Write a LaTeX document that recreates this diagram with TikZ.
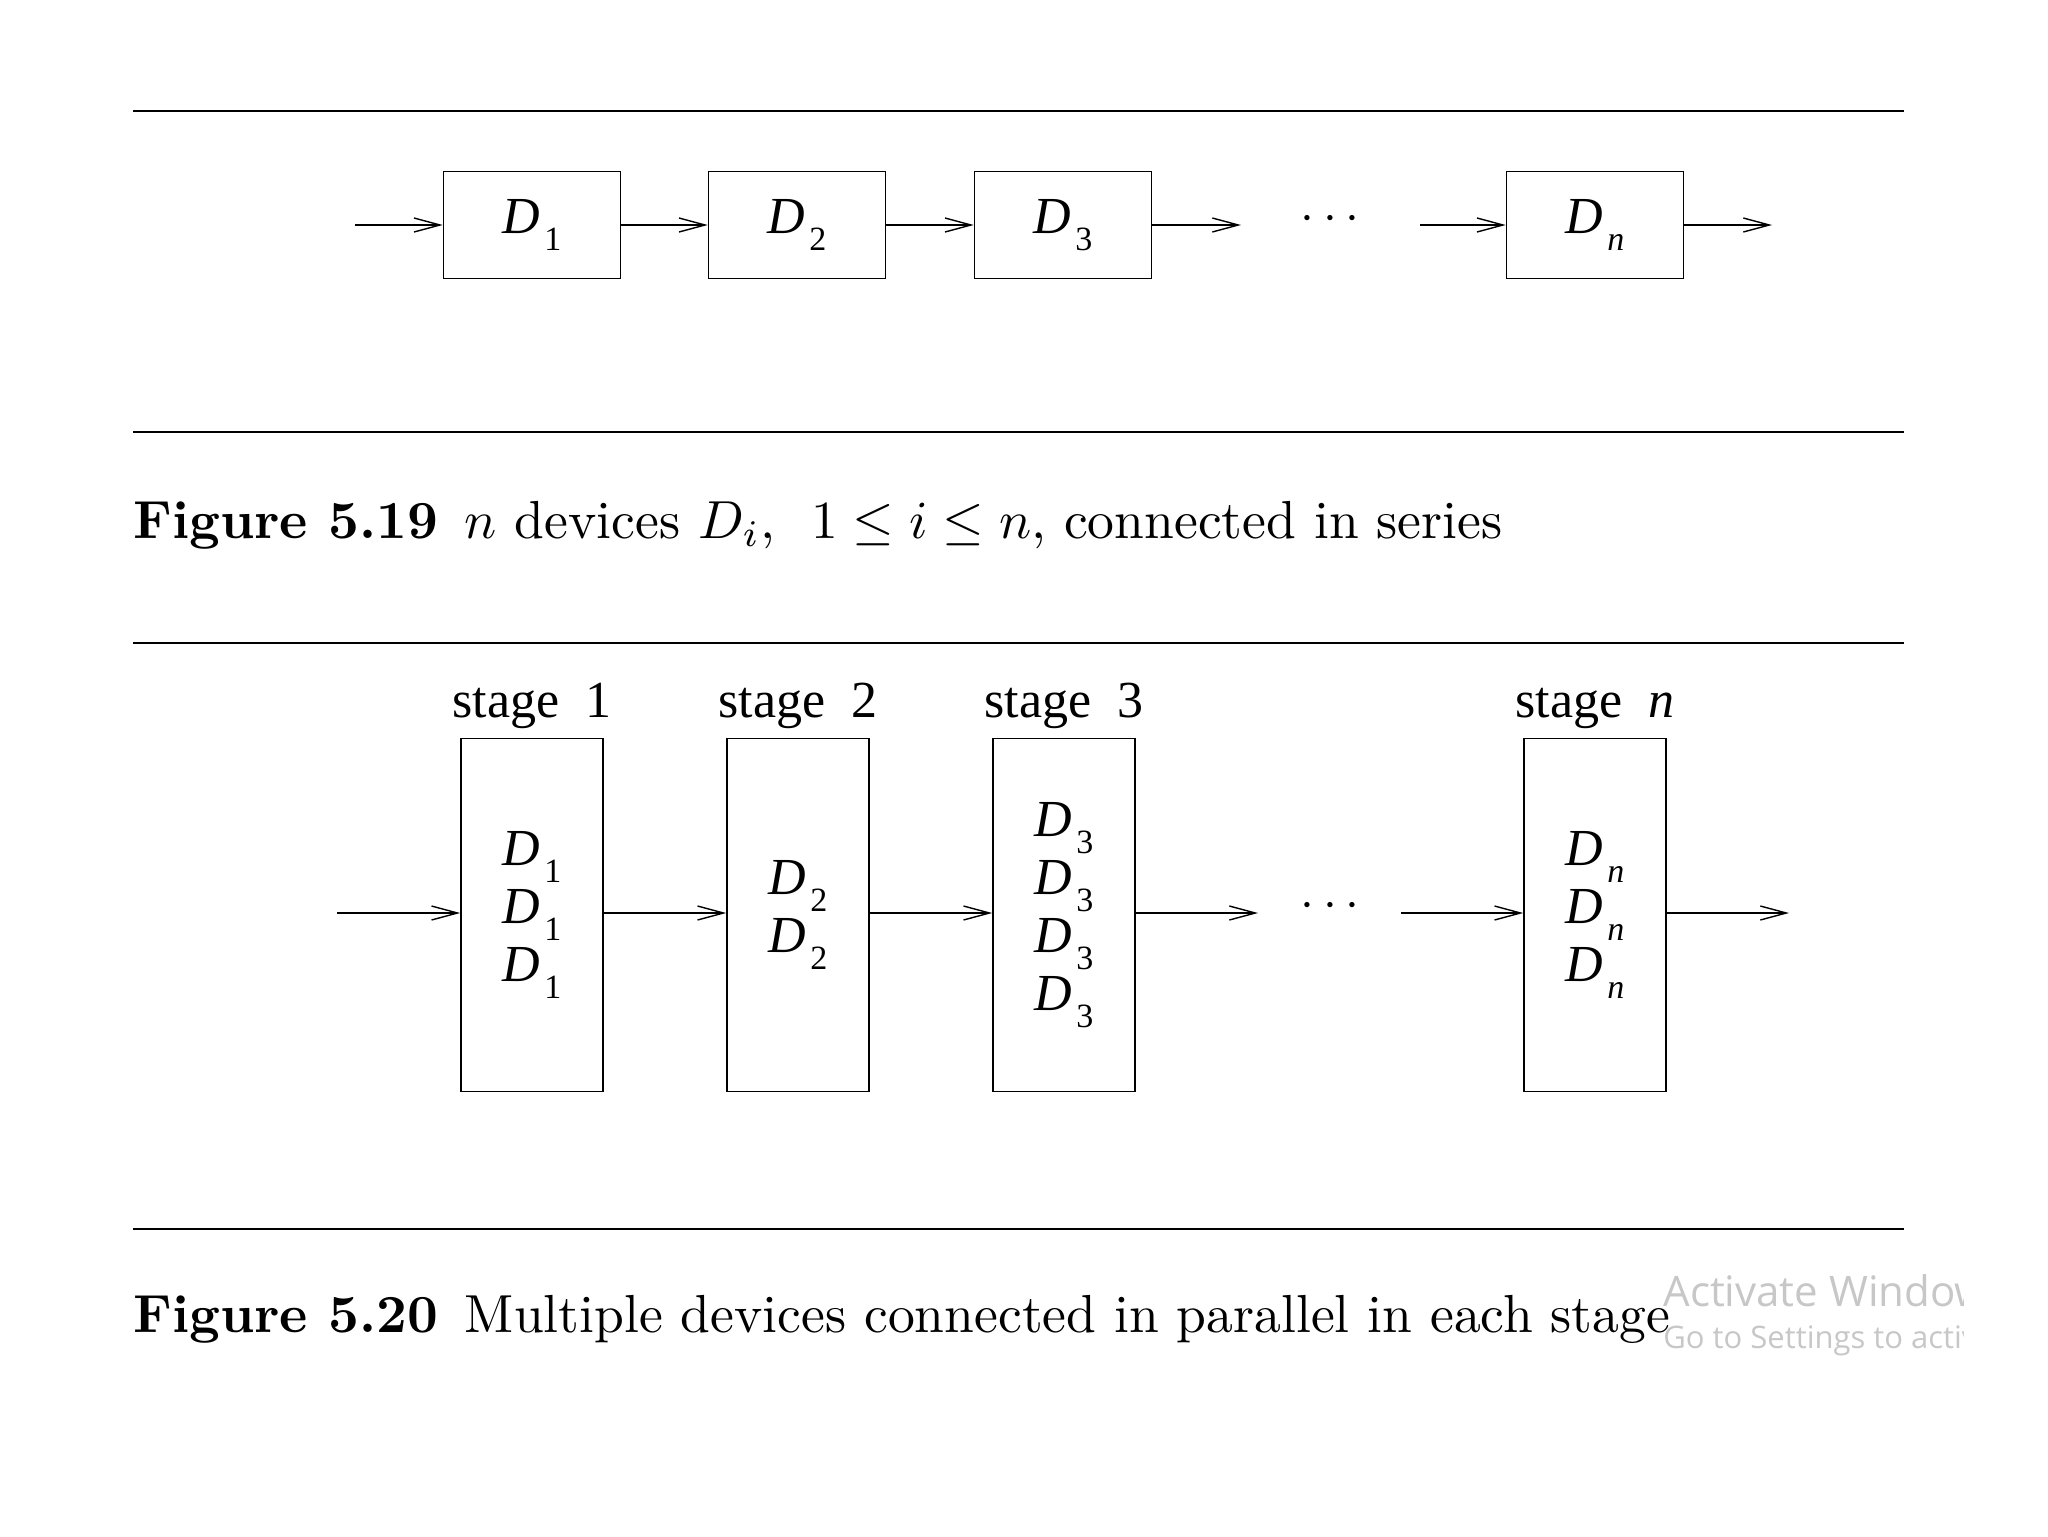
\documentclass[tikz,border=0pt]{standalone}
\usepackage{fontspec}
\usepackage{graphicx}
\newfontfamily\tms{Liberation Serif}
\newfontfamily\wmfont{Open Sans}
\usetikzlibrary{arrows.meta}
\newcommand\Dv[1]{\textit{D}\kern0.08em\raisebox{-0.34em}{\fontsize{17}{17}\selectfont #1}}
\tikzset{
  rule/.style={line width=1.2pt},
  conn/.style={line width=0.7pt,-{Straight Barb[length=13pt,width=7pt]}},
  serbox/.style={draw,line width=0.8pt,inner sep=0pt,minimum width=88.5pt,minimum height=53.5pt,font=\tms\fontsize{26}{29}\selectfont},
  stagebox/.style={draw,line width=0.8pt,inner sep=0pt,minimum width=71pt,minimum height=176.5pt,align=center,font=\tms\fontsize{26}{29}\selectfont},
  stagelbl/.style={anchor=base,inner sep=0pt,font=\tms\fontsize{26}{30}\selectfont},
  dotsnode/.style={inner sep=0pt,font=\fontsize{28}{30}\selectfont},
  caption/.style={anchor=base west,inner sep=0pt,font=\normalsize},
  wm/.style={anchor=base west,inner sep=0pt,text=black!22}
}
\begin{document}
\begin{tikzpicture}[x=0.5pt,y=-0.5pt]
\useasboundingbox (0,0) rectangle (2048,1536);
% rules
\draw[rule] (133,111) -- (1904,111);
\draw[rule] (133,432) -- (1904,432);
\draw[rule] (133,643) -- (1904,643);
\draw[rule] (133,1229) -- (1904,1229);

% Figure 5.19
\node[serbox] (d1) at (532,225) {\Dv{1}};
\node[serbox] (d2) at (797,225) {\Dv{2}};
\node[serbox] (d3) at (1063,225) {\Dv{3}};
\node[serbox] (dn) at (1595,225) {\Dv{\textit{n}}};
\coordinate (tin) at (355,225);
\coordinate (t3) at (1241,225);
\coordinate (tn) at (1420,225);
\coordinate (tout) at (1772,225);
\node[dotsnode] (tdots) at (1330,219) {$\cdots$};
\draw[conn] (tin) -- (d1.west);
\draw[conn] (d1.east) -- (d2.west);
\draw[conn] (d2.east) -- (d3.west);
\draw[conn] (d3.east) -- (t3);
\draw[conn] (tn) -- (dn.west);
\draw[conn] (dn.east) -- (tout);

\node[caption] (cap1) at (133,538) {\scalebox{2.68}{\textbf{Figure 5.19}\enspace $n$ devices $D_i$,\ \ $1\le i\le n$, connected in series}};

% Figure 5.20
\node[stagebox] (s1) at (532,915) {\Dv{1}\\\Dv{1}\\\Dv{1}};
\node[stagebox] (s2) at (798,915) {\Dv{2}\\\Dv{2}};
\node[stagebox] (s3) at (1064,915) {\Dv{3}\\\Dv{3}\\\Dv{3}\\\Dv{3}};
\node[stagebox] (sn) at (1595,915) {\Dv{\textit{n}}\\\Dv{\textit{n}}\\\Dv{\textit{n}}};
\node[stagelbl] (l1) at (532,717) {stage\hspace{0.5em}1};
\node[stagelbl] (l2) at (798,717) {stage\hspace{0.5em}2};
\node[stagelbl] (l3) at (1064,717) {stage\hspace{0.5em}3};
\node[stagelbl] (ln) at (1595,717) {stage\hspace{0.5em}\textit{n}};
\coordinate (bin) at (337,913);
\coordinate (b3) at (1258,913);
\coordinate (bn) at (1401,913);
\coordinate (bout) at (1789,913);
\node[dotsnode] (bdots) at (1330,906) {$\cdots$};
\draw[conn] (bin) -- (bin -| s1.west);
\draw[conn] (bin -| s1.east) -- (bin -| s2.west);
\draw[conn] (bin -| s2.east) -- (bin -| s3.west);
\draw[conn] (bin -| s3.east) -- (b3);
\draw[conn] (bn) -- (bn -| sn.west);
\draw[conn] (bn -| sn.east) -- (bout);

\node[caption] (cap2) at (133,1332) {\scalebox{2.68}{\textbf{Figure 5.20}\enspace Multiple devices connected in parallel in each stage}};

% watermark
\begin{scope}
\clip (1640,1240) rectangle (1963,1370);
\node[wm,font=\wmfont\fontsize{21}{24}\selectfont] (wm1) at (1663,1306) {Activate Windows};
\node[wm,font=\wmfont\fontsize{15.5}{18}\selectfont] (wm2) at (1663,1348) {Go to Settings to activate Windows.};
\end{scope}
\end{tikzpicture}
\end{document}
